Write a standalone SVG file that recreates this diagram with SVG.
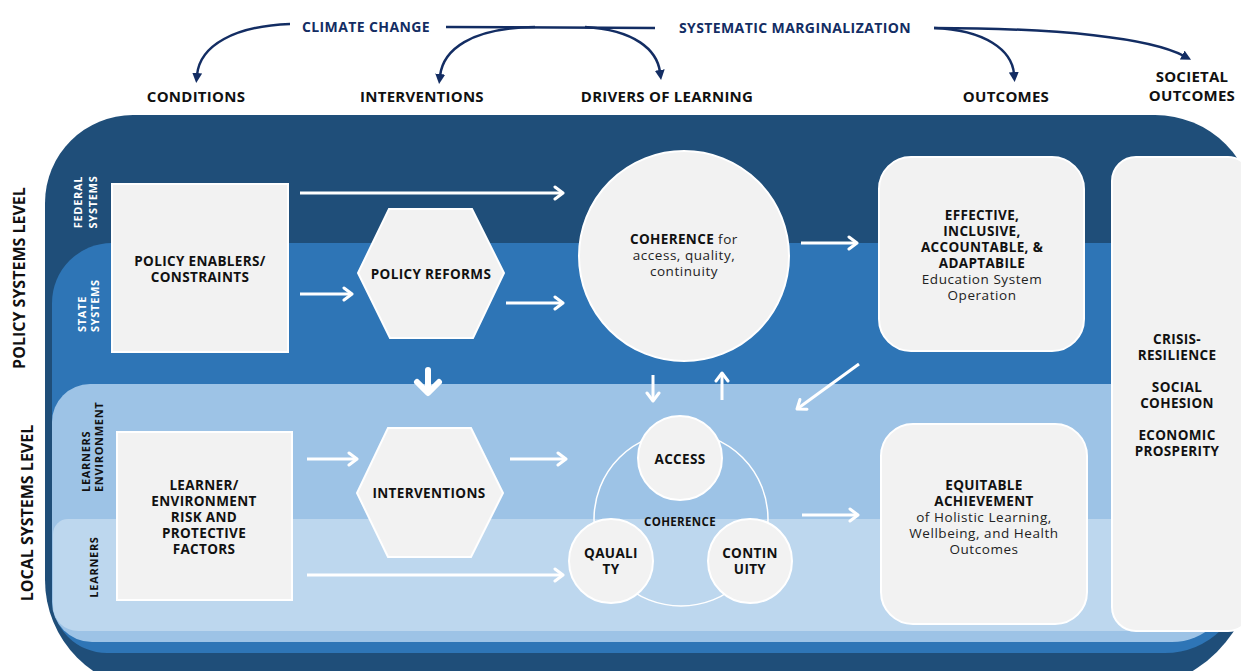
<svg xmlns="http://www.w3.org/2000/svg" width="1241" height="671" viewBox="0 0 1241 671">
  <style>
    .hdr { font-family: "Open Sans", "Liberation Sans", sans-serif; font-weight: 700; font-size: 15px; letter-spacing: 0.25px; fill: #111; text-anchor: middle; }
    .ctx { font-family: "Open Sans", "Liberation Sans", sans-serif; font-weight: 700; font-size: 14px; letter-spacing: 0.4px; fill: #132d63; text-anchor: middle; }
    .lvl { font-family: "Open Sans", "Liberation Sans", sans-serif; font-weight: 700; font-size: 16px; fill: #111; text-anchor: middle; }
    .sub { font-family: "Open Sans", "Liberation Sans", sans-serif; font-weight: 700; font-size: 11px; letter-spacing: 0.7px; }
    .sub.w { fill: #fff; }
    .sub.k { fill: #111; }
    .b { font-family: "Open Sans", "Liberation Sans", sans-serif; font-weight: 700; font-size: 13.5px; letter-spacing: 0.35px; fill: #111; text-anchor: middle; }
    .r { font-family: "Open Sans", "Liberation Sans", sans-serif; font-weight: 400; font-size: 13.5px; letter-spacing: 0.55px; fill: #222; text-anchor: middle; }
    .box { fill: #f2f2f2; stroke: #fff; stroke-width: 2; }
    .wa { fill: none; stroke: #fff; stroke-width: 3; marker-end: url(#chev); }
    .na { fill: none; stroke: #132d63; stroke-width: 2.5; }
    .nam { marker-end: url(#tri); }
  </style>
  <defs>
    <marker id="chev" viewBox="0 0 12 16" refX="10" refY="8" markerWidth="12" markerHeight="16" markerUnits="userSpaceOnUse" orient="auto">
      <path d="M2,2 L10,8 L2,14" fill="none" stroke="#fff" stroke-width="3" stroke-linecap="round" stroke-linejoin="round"/>
    </marker>
    <marker id="tri" viewBox="0 0 10 10" refX="2" refY="5" markerWidth="10" markerHeight="10" markerUnits="userSpaceOnUse" orient="auto">
      <path d="M0,0 L10,5 L0,10 z" fill="#132d63"/>
    </marker>
  </defs>

  <rect width="1241" height="671" fill="#fff"/>

  <!-- layered system bands -->
  <g id="bands">
    <path id="band-federal" d="M45 203 A88 88 0 0 1 133 115 H1155 A100 100 0 0 1 1255 215 V560 A130 130 0 0 1 1125 690 H155 A110 110 0 0 1 45 580 Z" fill="#1f4e79"/>
    <path id="band-state" d="M52 303 A60 60 0 0 1 112 243 H1245 V573 A80 80 0 0 1 1165 653 H107 A55 55 0 0 1 52 598 Z" fill="#2e75b6"/>
    <path id="band-environment" d="M52 422 A38 38 0 0 1 90 384 H1232 V582 A60 60 0 0 1 1172 642 H92 A40 40 0 0 1 52 602 Z" fill="#9dc3e6"/>
    <path id="band-learners" d="M53 534 A15 15 0 0 1 68 519 H1220 V591 A40 40 0 0 1 1180 631 H78 A25 25 0 0 1 53 606 Z" fill="#bdd7ee"/>
  </g>

  <!-- column headers and context -->
  <g id="headers">
    <text class="hdr" x="196" y="102">CONDITIONS</text>
    <text class="hdr" x="422" y="102">INTERVENTIONS</text>
    <text class="hdr" x="667" y="102">DRIVERS OF LEARNING</text>
    <text class="hdr" x="1006" y="102">OUTCOMES</text>
    <text class="hdr" x="1192" y="82">SOCIETAL</text>
    <text class="hdr" x="1192" y="101">OUTCOMES</text>
  </g>
  <g id="context">
    <text class="ctx" x="366" y="32">CLIMATE CHANGE</text>
    <text class="ctx" x="795" y="33">SYSTEMATIC MARGINALIZATION</text>
  </g>

  <!-- level labels -->
  <g id="levels">
    <text class="lvl" transform="translate(25,278) rotate(-90)">POLICY SYSTEMS LEVEL</text>
    <text class="lvl" transform="translate(33,513) rotate(-90)">LOCAL SYSTEMS LEVEL</text>
    <text class="sub w" text-anchor="middle" transform="translate(82,202) rotate(-90)">FEDERAL</text>
    <text class="sub w" text-anchor="middle" transform="translate(97,202) rotate(-90)">SYSTEMS</text>
    <text class="sub w" text-anchor="start" transform="translate(86,332) rotate(-90)">STATE</text>
    <text class="sub w" text-anchor="start" transform="translate(99,332) rotate(-90)">SYSTEMS</text>
    <text class="sub k" text-anchor="start" transform="translate(90,492) rotate(-90)">LEARNERS</text>
    <text class="sub k" text-anchor="start" transform="translate(103,492) rotate(-90)">ENVIRONMENT</text>
    <text class="sub k" text-anchor="middle" transform="translate(98,567) rotate(-90)">LEARNERS</text>
  </g>

  <!-- nodes -->
  <g id="policy-enablers">
    <rect class="box" x="112" y="184" width="176" height="168"/>
    <text class="b" x="200" y="266">POLICY ENABLERS/</text>
    <text class="b" x="200" y="282">CONSTRAINTS</text>
  </g>
  <g id="learner-factors">
    <rect class="box" x="117" y="432" width="175" height="168"/>
    <text class="b" x="204" y="490">LEARNER/</text>
    <text class="b" x="204" y="506">ENVIRONMENT</text>
    <text class="b" x="204" y="522">RISK AND</text>
    <text class="b" x="204" y="538">PROTECTIVE</text>
    <text class="b" x="204" y="554">FACTORS</text>
  </g>
  <g id="policy-reforms">
    <polygon class="box" points="389,209 472,209 504,273 473,338 390,338 358,273" stroke-width="1"/>
    <text class="b" x="431" y="279">POLICY REFORMS</text>
  </g>
  <g id="interventions">
    <polygon class="box" points="388,428 471,428 503,493 471,557 388,557 357,493" stroke-width="1"/>
    <text class="b" x="429" y="498">INTERVENTIONS</text>
  </g>
  <g id="coherence-policy">
    <circle class="box" cx="684" cy="256" r="105" stroke-width="1"/>
    <text class="r" x="684" y="244"><tspan class="b">COHERENCE</tspan> for</text>
    <text class="r" x="684" y="260">access, quality,</text>
    <text class="r" x="684" y="276">continuity</text>
  </g>
  <g id="coherence-local">
    <circle cx="681" cy="519" r="87" fill="none" stroke="#fff" stroke-width="1.5"/>
    <text class="b" x="680" y="526" style="font-size:11.5px">COHERENCE</text>
  </g>
  <g id="access">
    <circle class="box" cx="680" cy="458" r="42"/>
    <text class="b" x="680" y="464">ACCESS</text>
  </g>
  <g id="quality">
    <circle class="box" cx="611" cy="561" r="42"/>
    <text class="b" x="611" y="558">QAUALI</text>
    <text class="b" x="611" y="574">TY</text>
  </g>
  <g id="continuity">
    <circle class="box" cx="750" cy="561" r="42"/>
    <text class="b" x="750" y="558">CONTIN</text>
    <text class="b" x="750" y="574">UITY</text>
  </g>
  <g id="system-operation">
    <rect class="box" x="879" y="157" width="205" height="194" rx="32" stroke-width="2.5"/>
    <text class="b" x="982" y="220">EFFECTIVE,</text>
    <text class="b" x="982" y="236">INCLUSIVE,</text>
    <text class="b" x="982" y="252">ACCOUNTABLE, &amp;</text>
    <text class="b" x="982" y="268">ADAPTABILE</text>
    <text class="r" x="982" y="284">Education System</text>
    <text class="r" x="982" y="300">Operation</text>
  </g>
  <g id="equitable-achievement">
    <rect class="box" x="881" y="424" width="206" height="200" rx="32" stroke-width="2.5"/>
    <text class="b" x="984" y="490">EQUITABLE</text>
    <text class="b" x="984" y="506">ACHIEVEMENT</text>
    <text class="r" x="984" y="522">of Holistic Learning,</text>
    <text class="r" x="984" y="538">Wellbeing, and Health</text>
    <text class="r" x="984" y="554">Outcomes</text>
  </g>
  <g id="societal-outcomes">
    <rect class="box" x="1112" y="157" width="140" height="474" rx="24" stroke-width="2.5"/>
    <text class="b" x="1177" y="344">CRISIS-</text>
    <text class="b" x="1177" y="360">RESILIENCE</text>
    <text class="b" x="1177" y="392">SOCIAL</text>
    <text class="b" x="1177" y="408">COHESION</text>
    <text class="b" x="1177" y="440">ECONOMIC</text>
    <text class="b" x="1177" y="456">PROSPERITY</text>
  </g>

  <!-- connectors -->
  <g id="connectors">
    <line class="wa" x1="300" y1="193" x2="563" y2="193"/>
    <line class="wa" x1="300" y1="294" x2="352" y2="294"/>
    <line class="wa" x1="506" y1="303" x2="563" y2="303"/>
    <line class="wa" x1="801" y1="243" x2="857" y2="243"/>
    <line class="wa" x1="307" y1="459" x2="357" y2="459"/>
    <line class="wa" x1="510" y1="459" x2="566" y2="459"/>
    <line class="wa" x1="307" y1="575" x2="563" y2="575"/>
    <line class="wa" x1="802" y1="515" x2="858" y2="515"/>
    <line class="wa" x1="653" y1="375" x2="653" y2="401"/>
    <line class="wa" x1="722" y1="400" x2="722" y2="373"/>
    <line class="wa" x1="859" y1="364" x2="797" y2="409"/>
    <path d="M428 370 V392 M417 382 L428 393 L439 382" fill="none" stroke="#fff" stroke-width="6" stroke-linecap="round" stroke-linejoin="round"/>

    <path class="na nam" d="M290 24 C235 26 200 45 197 75"/>
    <path class="na" d="M446 27 L655 28"/>
    <path class="na nam" d="M535 27 C470 28 443 50 440 76"/>
    <path class="na nam" d="M585 27 C635 30 657 50 660 72"/>
    <path class="na nam" d="M934 28 C985 30 1012 50 1014 74"/>
    <path class="na nam" d="M934 28 C1060 28 1150 38 1184 56"/>
  </g>
</svg>
